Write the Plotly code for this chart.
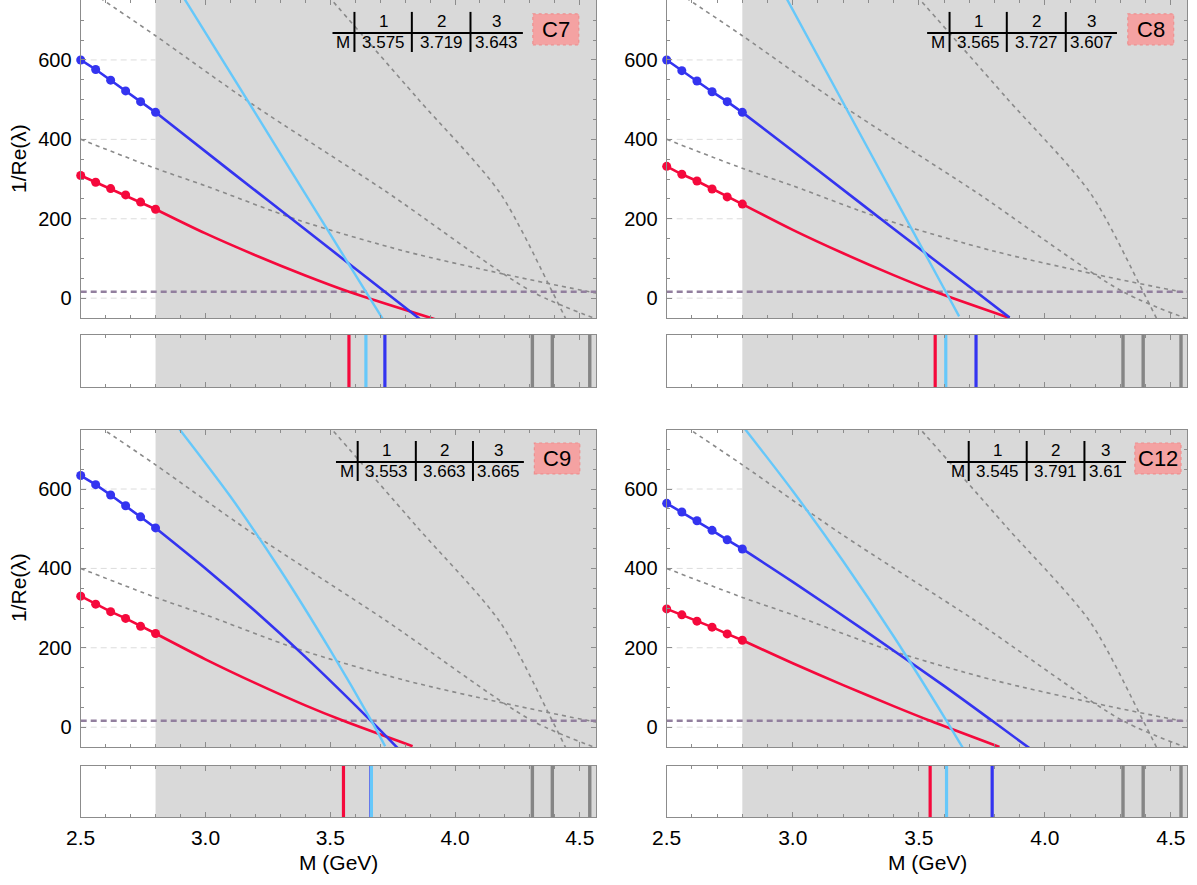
import plotly.graph_objects as go

# ---------------------------------------------------------------- data
# masses of the fitted points (GeV)
dot_m = [2.5, 2.56, 2.62, 2.68, 2.74, 2.8]

# reference curves common to every panel
g1_m = [2.5, 2.8, 3.0, 3.37, 3.8, 4.2, 4.54, 4.6]
g1_v = [400, 327, 283, 197, 118, 60, 16, 10]
g2_m = [2.5, 2.585, 2.8, 3.187, 3.72, 4.31, 4.6]
g2_v = [790, 753, 661, 489, 270, 16, -60]
g3_m = [3.45, 3.5, 3.85, 4.18, 4.39, 4.45]
g3_v = [790, 755, 503, 265, 16, -60]
threshold = 16
gray_cross_m = [4.31, 4.39, 4.54]
y_grid = [0, 200, 400, 600]

# C7
c7_red_dots = [309, 292, 276, 260, 242, 224]
c7_red_m = [2.8, 3.0, 3.2, 3.4, 3.575, 3.95]
c7_red_v = [224, 163, 108, 57, 16, -59]
c7_blue_dots = [600, 576, 549, 522, 495, 468]
c7_blue_m = [2.8, 3.1, 3.4, 3.719, 3.86]
c7_blue_v = [468, 320, 173, 16, -53]
c7_sky_m = [2.88, 3.2, 3.5, 3.643, 3.72]
c7_sky_v = [790, 466, 161, 16, -62]
c7_table = [3.575, 3.719, 3.643]

# C8
c8_red_dots = [332, 312, 295, 275, 255, 237]
c8_red_m = [2.8, 3.0, 3.2, 3.4, 3.565, 3.86]
c8_red_v = [237, 172, 113, 58, 16, -50]
c8_blue_dots = [600, 573, 547, 520, 495, 468]
c8_blue_m = [2.8, 3.1, 3.4, 3.727, 3.86]
c8_blue_v = [468, 322, 175, 16, -49]
c8_sky_m = [2.96, 3.3, 3.607, 3.66]
c8_sky_v = [773, 375, 16, -46]
c8_table = [3.565, 3.727, 3.607]

# C9
c9_red_dots = [330, 310, 291, 274, 254, 236]
c9_red_m = [2.8, 3.0, 3.2, 3.4, 3.553, 3.83]
c9_red_v = [236, 171, 111, 55, 16, -48]
c9_blue_dots = [634, 611, 585, 558, 530, 502]
c9_blue_m = [2.8, 3.0, 3.2, 3.4, 3.663, 3.78]
c9_blue_v = [502, 400, 292, 177, 16, -59]
c9_sky_m = [2.85, 3.1, 3.3, 3.5, 3.665, 3.72]
c9_sky_v = [788, 581, 396, 194, 16, -48]
c9_table = [3.553, 3.663, 3.665]

# C12
c12_red_dots = [298, 283, 267, 252, 235, 219]
c12_red_m = [2.8, 3.0, 3.2, 3.4, 3.545, 3.82]
c12_red_v = [219, 161, 106, 53, 16, -50]
c12_blue_dots = [564, 542, 520, 496, 472, 449]
c12_blue_m = [2.8, 3.0, 3.3, 3.6, 3.791, 3.95]
c12_blue_v = [449, 366, 237, 104, 16, -58]
c12_sky_m = [2.78, 3.0, 3.2, 3.4, 3.61, 3.68]
c12_sky_v = [776, 595, 418, 229, 16, -58]
c12_table = [3.545, 3.791, 3.61]

# ---------------------------------------------------------------- style
RED = "#f5093c"
BLUE = "#3434f0"
SKY = "#66c8fa"
GREY = "#8a8a8a"
PURPLE = "#927f9e"
SHADE = "#d9d9d9"
FRAME = "#8c8c8c"
FONT = "Liberation Sans, Arial, sans-serif"

W, H = 1197, 885
X0, X1 = 2.5, 4.565
SHADE_FROM = 2.8


def px_x(a, b):
    return [a / W, b / W]


def px_y(top, bottom):
    return [1 - bottom / H, 1 - top / H]


panels = [
    dict(name="C7", col=0, row=0, red_dots=c7_red_dots, red=(c7_red_m, c7_red_v),
         blue_dots=c7_blue_dots, blue=(c7_blue_m, c7_blue_v), sky=(c7_sky_m, c7_sky_v),
         table=c7_table, grid=[3.509, 3.597, 3.827, 4.062, 4.272], box=[4.312, 4.496]),
    dict(name="C8", col=1, row=0, red_dots=c8_red_dots, red=(c8_red_m, c8_red_v),
         blue_dots=c8_blue_dots, blue=(c8_blue_m, c8_blue_v), sky=(c8_sky_m, c8_sky_v),
         table=c8_table, grid=[3.533, 3.622, 3.849, 4.083, 4.286], box=[4.329, 4.511]),
    dict(name="C9", col=0, row=1, red_dots=c9_red_dots, red=(c9_red_m, c9_red_v),
         blue_dots=c9_blue_dots, blue=(c9_blue_m, c9_blue_v), sky=(c9_sky_m, c9_sky_v),
         table=c9_table, grid=[3.523, 3.61, 3.843, 4.072, 4.276], box=[4.318, 4.50]),
    dict(name="C12", col=1, row=1, red_dots=c12_red_dots, red=(c12_red_m, c12_red_v),
         blue_dots=c12_blue_dots, blue=(c12_blue_m, c12_blue_v), sky=(c12_sky_m, c12_sky_v),
         table=c12_table, grid=[3.612, 3.698, 3.928, 4.157, 4.322], box=[4.357, 4.540]),
]

col_x = [px_x(80.7, 596.0), px_x(666.7, 1187.3)]
row_main = [px_y(0, 318), px_y(429.5, 747)]
row_strip = [px_y(335, 387), px_y(766, 817)]

fig = go.Figure()
layout = dict(
    width=W, height=H,
    margin=dict(l=0, r=0, t=0, b=0, autoexpand=False),
    paper_bgcolor="white", plot_bgcolor="white",
    showlegend=False,
    font=dict(family=FONT, size=20, color="black"),
)
shapes = []
annotations = []


def axname(kind, i):
    return kind + "axis" + ("" if i == 1 else str(i))


def ref(kind, i):
    return kind + ("" if i == 1 else str(i))


tick_common = dict(
    showline=True, linecolor=FRAME, linewidth=1.2, mirror="ticks",
    ticks="inside", tickcolor=FRAME, ticklen=5, tickwidth=1,
    zeroline=False, showgrid=False,
)

for k, p in enumerate(panels):
    im = 2 * k + 1   # main plot axes index
    is_ = 2 * k + 2  # strip axes index
    xd = col_x[p["col"]]
    xm, ym = ref("x", im), ref("y", im)
    xs, ys = ref("x", is_), ref("y", is_)
    ymax = 751 if p["row"] == 0 else 750

    layout[axname("x", im)] = dict(
        domain=xd, anchor=ym, range=[X0, X1], tick0=2.5, dtick=0.5,
        showticklabels=False,
        minor=dict(dtick=0.1, ticks="inside", ticklen=3, tickcolor=FRAME),
        **tick_common)
    layout[axname("y", im)] = dict(
        domain=row_main[p["row"]], anchor=xm, range=[-50, ymax],
        tick0=0, dtick=200, showticklabels=True, ticklabelstandoff=4,
        tickfont=dict(size=20),
        minor=dict(dtick=50, ticks="inside", ticklen=3, tickcolor=FRAME),
        **tick_common)
    layout[axname("x", is_)] = dict(
        domain=xd, anchor=ys, range=[X0, X1], tick0=2.5, dtick=0.5,
        showticklabels=(p["row"] == 1), tickformat=".1f",
        tickfont=dict(size=21), ticklabelstandoff=2,
        minor=dict(dtick=0.1, ticks="inside", ticklen=3, tickcolor=FRAME),
        **tick_common)
    layout[axname("y", is_)] = dict(
        domain=row_strip[p["row"]], anchor=xs, range=[0, 1],
        showticklabels=False, showline=True, linecolor=FRAME, linewidth=1.2,
        mirror=True, ticks="", showgrid=False, zeroline=False)

    # shaded region above 2.8 GeV in both plots
    for xr, yr in ((xm, ym), (xs, ys)):
        shapes.append(dict(type="rect", xref=xr, yref=yr + " domain",
                           x0=SHADE_FROM, x1=X1, y0=0, y1=1, fillcolor=SHADE,
                           line=dict(width=0), layer="below"))
    # light dashed grid in the unshaded part
    for gy in y_grid:
        shapes.append(dict(type="line", xref=xm, yref=ym, x0=X0, x1=SHADE_FROM,
                           y0=gy, y1=gy, line=dict(color="#dcdcdc", width=1, dash="6px,4px"),
                           layer="below"))

    # reference curves
    for gm, gv in ((g1_m, g1_v), (g2_m, g2_v), (g3_m, g3_v)):
        fig.add_trace(go.Scatter(x=gm, y=gv, xaxis=xm, yaxis=ym, mode="lines",
                                 line=dict(color=GREY, width=1.6, dash="4px,4px",
                                           shape="spline", smoothing=0.8),
                                 hoverinfo="skip"))
    fig.add_trace(go.Scatter(x=[X0, X1], y=[threshold, threshold], xaxis=xm, yaxis=ym,
                             mode="lines", line=dict(color=PURPLE, width=2.6,
                                                     dash="6px,4px"),
                             hoverinfo="skip"))

    # eigenvalue curves
    for (cm, cv), color, wdt in ((p["red"], RED, 2.6), (p["blue"], BLUE, 2.6),
                                 (p["sky"], SKY, 2.4)):
        fig.add_trace(go.Scatter(x=cm, y=cv, xaxis=xm, yaxis=ym, mode="lines",
                                 line=dict(color=color, width=wdt, shape="spline",
                                           smoothing=0.8)))
    for dots, color in ((p["red_dots"], RED), (p["blue_dots"], BLUE)):
        fig.add_trace(go.Scatter(x=dot_m, y=dots, xaxis=xm, yaxis=ym,
                                 mode="lines+markers",
                                 line=dict(color=color, width=2.6),
                                 marker=dict(color=color, size=9),
                                 cliponaxis=False))

    # strip: threshold crossings
    for m in gray_cross_m:
        fig.add_trace(go.Scatter(x=[m, m], y=[0, 1], xaxis=xs, yaxis=ys, mode="lines",
                                 line=dict(color="#858585", width=3.4)))
    for m, color in zip(p["table"], (RED, BLUE, SKY)):
        fig.add_trace(go.Scatter(x=[m, m], y=[0, 1], xaxis=xs, yaxis=ys, mode="lines",
                                 line=dict(color=color, width=3.2)))

    # crossing table
    g = p["grid"]
    shapes.append(dict(type="line", xref=xm, yref=ym, x0=g[0], x1=g[4], y0=668, y1=668,
                       line=dict(color="black", width=2), layer="above"))
    for gx in g[1:4]:
        shapes.append(dict(type="line", xref=xm, yref=ym, x0=gx, x1=gx, y0=620, y1=721,
                           line=dict(color="black", width=2), layer="above"))
    annotations.append(dict(xref=xm, yref=ym, x=(g[0] + g[1]) / 2, y=643, text="M",
                            showarrow=False, font=dict(size=17)))
    for j in range(3):
        cx = (g[j + 1] + g[j + 2]) / 2
        annotations.append(dict(xref=xm, yref=ym, x=cx, y=698, text=str(j + 1),
                                showarrow=False, font=dict(size=17)))
        annotations.append(dict(xref=xm, yref=ym, x=cx, y=643,
                                text=f"{p['table'][j]:g}",
                                showarrow=False, font=dict(size=17)))
    b = p["box"]
    shapes.append(dict(type="rect", xref=xm, yref=ym, x0=b[0], x1=b[1], y0=638, y1=716,
                       fillcolor="#f4a2a2", line=dict(color="#ee8f8f", width=1.2,
                                                      dash="dot"),
                       layer="above"))
    annotations.append(dict(xref=xm, yref=ym, x=(b[0] + b[1]) / 2, y=677, text=p["name"],
                            showarrow=False, font=dict(size=22)))

# axis titles
for yc in (159, 588):
    annotations.append(dict(xref="paper", yref="paper", x=18 / W, y=1 - yc / H,
                            xanchor="center", yanchor="middle",
                            text="1/Re(λ)", textangle=-90, showarrow=False,
                            font=dict(size=21)))
for xc in (338.3, 927.0):
    annotations.append(dict(xref="paper", yref="paper", x=xc / W, y=1 - 862 / H,
                            xanchor="center", yanchor="middle",
                            text="M (GeV)", showarrow=False, font=dict(size=21)))

layout["shapes"] = shapes
layout["annotations"] = annotations
fig.update_layout(**layout)
fig.write_html("out.html")
